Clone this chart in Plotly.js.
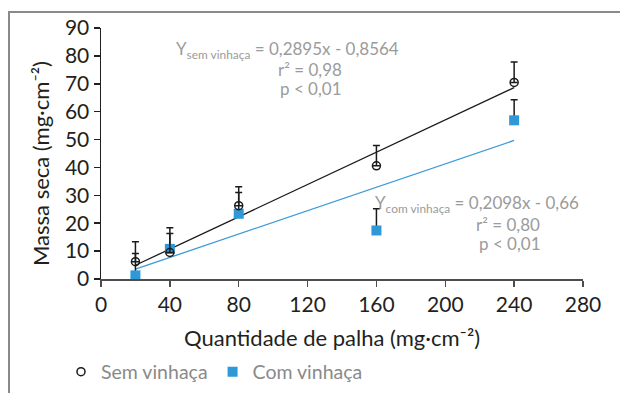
<!DOCTYPE html>
<html><head><meta charset="utf-8">
<script src="https://cdn.plot.ly/plotly-3.0.1.min.js"></script>
<style>html,body{margin:0;padding:0;background:#fff}#frame{position:absolute;left:8px;top:11px;width:640px;height:400px;border-top:2px solid #8a8a8a;border-left:2px solid #8a8a8a;pointer-events:none}</style>
</head><body>
<div id="chart" style="width:620px;height:393px"></div>
<div id="frame"></div>
<script>
const xVals = [20, 40, 80, 160, 240];
const semY = [6.2, 9.5, 26.3, 40.6, 70.5];
const semErr = [7.2, 8.9, 6.8, 7.3, 7.3];
const comY = [1.3, 10.8, 23.4, 17.4, 56.9];
const comErr = [7.8, 5.5, 7.6, 7.8, 7.4];
const semFit = {slope: 0.2895, intercept: -0.8564};
const comFit = {slope: 0.2098, intercept: -0.66};
const fitX = [20, 240];
const xTicks = [0, 40, 80, 120, 160, 200, 240, 280];
const yTicks = [0, 10, 20, 30, 40, 50, 60, 70, 80, 90];

const zeros = xVals.map(() => 0);
const fitLine = f => fitX.map(x => f.slope * x + f.intercept);

const font = "Lato, 'Open Sans', sans-serif";
const gray = '#9b9b9b';
const L = 101, T = 28, W = 482, H = 251;
const px = x => (x - L) / W;
const py = y => (T + H - y) / H;

const traces = [
  {x: fitX, y: fitLine(semFit), mode: 'lines', line: {color: '#1a1a1a', width: 1.3}, showlegend: false, hoverinfo: 'skip'},
  {x: fitX, y: fitLine(comFit), mode: 'lines', line: {color: '#3a9ad9', width: 1.3}, showlegend: false, hoverinfo: 'skip'},
  {x: xVals, y: comY, name: 'Com vinhaça', mode: 'markers',
   marker: {symbol: 'square', size: 10, color: '#2f98d6'},
   error_y: {type: 'data', symmetric: false, array: comErr, arrayminus: zeros, color: '#1a1a1a', thickness: 1.5, width: 3.5}},
  {x: xVals, y: semY, name: 'Sem vinhaça', mode: 'markers',
   marker: {symbol: 'circle-open', size: 8, color: '#1a1a1a', line: {width: 1.5, color: '#1a1a1a'}},
   error_y: {type: 'data', symmetric: false, array: semErr, arrayminus: zeros, color: '#1a1a1a', thickness: 1.5, width: 3.5}}
];

const annFont = {family: font, size: 17, color: gray};
const titleFont = {family: font, size: 22, color: '#231f20'};
const ann = (x, y, text, f, extra) => Object.assign({xref: 'paper', yref: 'paper', x: px(x), y: py(y), xanchor: 'center', yanchor: 'middle', text: text, showarrow: false, font: f}, extra || {});
const layout = {
  width: 620, height: 393,
  margin: {l: L, r: 620 - L - W, t: T, b: 393 - T - H, autoexpand: false},
  paper_bgcolor: '#fff', plot_bgcolor: '#fff',
  font: {family: font, size: 19, color: '#231f20'},
  showlegend: true,
  legend: {orientation: 'h', x: -0.083, xanchor: 'left', y: py(372), yanchor: 'middle',
           font: {family: font, size: 19.5, color: '#8a8a8a'}, traceorder: 'reversed', itemwidth: 30},
  xaxis: {range: [0, 280], tickvals: xTicks, ticktext: xTicks.map(String), showgrid: false, zeroline: false, automargin: false,
          showline: true, linecolor: '#4d4d4d', linewidth: 2, ticks: 'outside', ticklen: 6, tickwidth: 1.5, tickcolor: '#4d4d4d',
          tickfont: {family: font, size: 21, color: '#231f20'}},
  yaxis: {range: [0, 90], tickvals: yTicks, ticktext: yTicks.map(String), showgrid: false, zeroline: false, automargin: false,
          showline: true, linecolor: '#231f20', linewidth: 1.5, ticks: 'outside', ticklen: 6, tickwidth: 1.5, tickcolor: '#231f20',
          tickfont: {family: font, size: 21, color: '#231f20'}},
  annotations: [
    ann(332, 337, 'Quantidade de palha (mg·cm⁻²)', titleFont),
    ann(40, 164, 'Massa seca (mg·cm⁻²)', titleFont, {textangle: -90}),
    ann(287, 50, 'Y<sub>sem vinhaça</sub> = 0,2895x - 0,8564', annFont),
    ann(310, 69, 'r² = 0,98', annFont),
    ann(311, 88, 'p < 0,01', annFont),
    ann(477, 204, 'Y<sub>com vinhaça</sub> = 0,2098x - 0,66', annFont),
    ann(508, 224, 'r² = 0,80', annFont),
    ann(510, 243, 'p < 0,01', annFont)
  ]
};
Plotly.newPlot('chart', traces, layout, {staticPlot: true, displayModeBar: false});
</script>
</body></html>
